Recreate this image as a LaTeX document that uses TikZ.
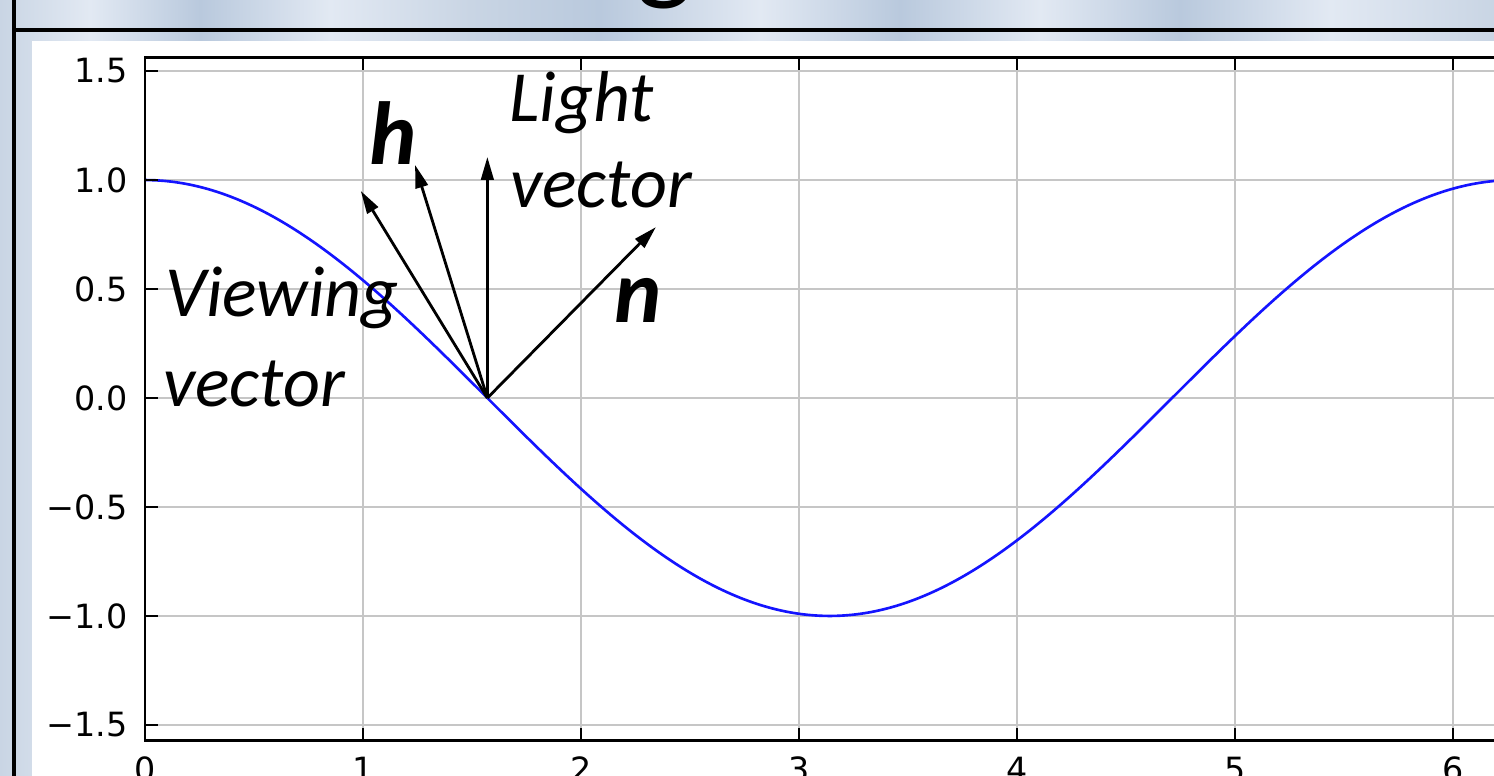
\documentclass[tikz,border=0pt]{standalone}
\usepackage{fontspec}
\usepackage{tikz}
\usetikzlibrary{arrows.meta}
\newfontfamily\slidefont{Carlito}
\newfontfamily\tickfont{DejaVu Sans}
\definecolor{cSlide}{RGB}{201,213,228}
\definecolor{cSlideLt}{RGB}{226,233,243}
\definecolor{cSlideDk}{RGB}{185,201,221}
\definecolor{cCurve}{RGB}{20,20,255}
\definecolor{cGrid}{RGB}{198,198,198}
\tikzset{
	frameline/.style={black, line width=2.6pt},
	gridline/.style ={cGrid, line width=1.1pt},
	axisline/.style ={black, line width=1.7pt},
	tickmark/.style ={black, line width=1.1pt},
	ticklbl/.style  ={inner sep=0pt, font=\tickfont\fontsize{19}{19}\selectfont, text=black},
	vecarrow/.style ={-{Triangle[length=0.46cm, width=0.25cm]}, line width=1.6pt, black},
	vlabel/.style   ={inner sep=0pt, anchor=base west, font=\slidefont\itshape\fontsize{41}{49}\selectfont},
	blabel/.style   ={inner sep=0pt, anchor=base west, font=\slidefont\bfseries\itshape\fontsize{51}{60}\selectfont},
}
\begin{document}
\begin{tikzpicture}[x=0.02cm, y=-0.02cm]
	\useasboundingbox (0,0) rectangle (1494,776);
	\clip (0,0) rectangle (1494,776);
	% slide background
	\foreach \xa/\xb/\ca/\cb in {0/90/cSlide/cSlideLt, 90/200/cSlideLt/cSlideDk, 200/330/cSlideDk/cSlideLt,
		330/470/cSlideLt/cSlide, 470/600/cSlide/cSlideDk, 600/760/cSlideDk/cSlideLt, 760/900/cSlideLt/cSlideDk,
		900/1040/cSlideDk/cSlideLt, 1040/1180/cSlideLt/cSlideDk, 1180/1330/cSlideDk/cSlideLt, 1330/1494/cSlideLt/cSlide}
		\shade[left color=\ca, right color=\cb] (\xa,-1) rectangle (\xb,777);
	\node[anchor=base, inner sep=0pt, font=\slidefont\fontsize{68}{68}\selectfont] (title) at (665,-11) {g};
	\draw[frameline] (14,0) -- (14,776);
	\draw[frameline] (14,30) -- (1494,30);
	\fill[white] (32,41) rectangle (1494,777);
	% plot in data units
	\begin{scope}[shift={(145,398)}, x=4.36cm, y=4.36cm]
		\foreach \xv in {1,...,6}
			\draw[gridline] (\xv,-1.573) -- (\xv,1.564);
		\foreach \yv in {-1.5,-1,...,1.5}
			\draw[gridline] (0,\yv) -- (6.6,\yv);
		\draw[cCurve, line width=1.5pt] plot[domain=0:6.2832, samples=150, smooth] (\x, {cos(\x r)});
		\draw[axisline] (6.6,1.564) -- (0,1.564) -- (0,-1.573) -- (6.6,-1.573);
		\foreach \xv in {1,...,6} {
			\draw[tickmark] (\xv,1.564) -- ++(0,-0.06);
			\draw[tickmark] (\xv,-1.573) -- ++(0,0.06);
		}
		\foreach \yv in {-1.5,-1,...,1.5}
			\draw[tickmark] (0,\yv) -- ++(0.06,0);
		\foreach \yv/\yl [count=\i] in {-1.5/−1.5, -1/−1.0, -0.5/−0.5, 0/0.0, 0.5/0.5, 1/1.0, 1.5/1.5}
			\node[ticklbl, anchor=east] (ylbl\i) at ([xshift=-0.34cm]0,\yv) {\yl};
		\foreach \xv in {0,...,6}
			\node[ticklbl, anchor=north] (xlbl\xv) at ([yshift=-0.32cm]\xv,-1.573) {\xv};
		% vectors at the point (pi/2, 0)
		\coordinate (p) at (1.5708,0);
		\coordinate (vtip) at (0.99,0.95);
		\coordinate (htip) at (1.239,1.069);
		\coordinate (ltip) at (1.5708,1.106);
		\coordinate (ntip) at (2.344,0.784);
		\draw[vecarrow] (p) -- (vtip);
		\draw[vecarrow] (p) -- (htip);
		\draw[vecarrow] (p) -- (ltip);
		\draw[vecarrow] (p) -- (ntip);
	\end{scope}
	% labels
	\node[vlabel] (view1) at (165,317) {Viewing};
	\node[vlabel] (view2) at (163,407) {vector};
	\node[vlabel] (light1) at (509,122) {Light};
	\node[vlabel] (light2) at (510,208) {vector};
	\node[blabel] (hlbl) at (369,165) {h};
	\node[blabel] (nlbl) at (614,323) {n};
\end{tikzpicture}
\end{document}
